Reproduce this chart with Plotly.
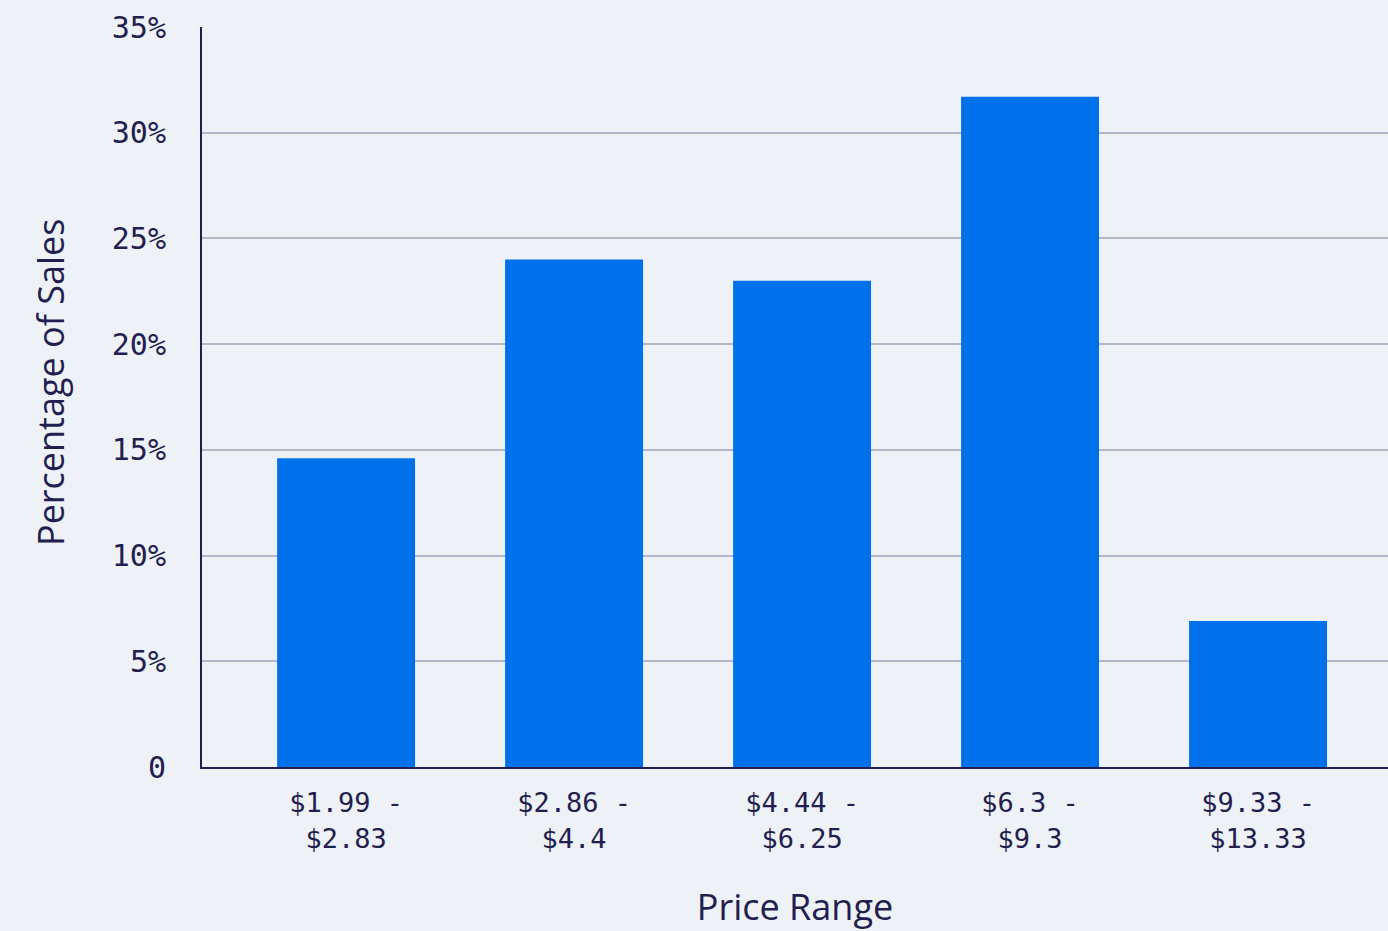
import plotly.graph_objects as go

categories = ["$1.99 -<br>$2.83", "$2.86 -<br>$4.4", "$4.44 -<br>$6.25", "$6.3 -<br>$9.3", "$9.33 -<br>$13.33"]
values = [14.6, 24.0, 23.0, 31.7, 6.9]
tick_vals = [0, 5, 10, 15, 20, 25, 30, 35]
tick_text = ["0", "5%", "10%", "15%", "20%", "25%", "30%", "35%"]

bg = "#EEF1F5"
ink = "#221E4F"

fig = go.Figure(go.Bar(x=list(range(len(categories))), y=values,
                       marker=dict(color="#0070EB", line=dict(width=0)), width=0.605))

fig.update_layout(
    width=1388, height=931,
    paper_bgcolor=bg, plot_bgcolor=bg,
    margin=dict(l=202, r=0, t=27, b=164),
    showlegend=False,
)
fig.update_xaxes(
    tickvals=list(range(len(categories))), ticktext=categories,
    range=[-0.632, 4.57],
    showgrid=False, showline=True, linecolor=ink, linewidth=2,
    ticks="outside", ticklen=11, tickcolor="rgba(0,0,0,0)",
    tickfont=dict(family="DejaVu Sans Mono", size=27, color=ink),
    title=dict(text="Price Range", font=dict(family="Open Sans", size=36, color=ink), standoff=45),
)
fig.update_yaxes(
    range=[0, 35], tickvals=tick_vals, ticktext=tick_text,
    showgrid=True, gridcolor="#B5B5C8", gridwidth=1.5,
    showline=True, linecolor=ink, linewidth=2, zeroline=False,
    ticks="outside", ticklen=28, tickcolor="rgba(0,0,0,0)",
    tickfont=dict(family="DejaVu Sans Mono", size=30, color=ink),
)
fig.add_annotation(
    text="Percentage of Sales", textangle=-90,
    xref="paper", yref="paper", x=(50 - 202) / 1186, y=(767 - 383) / 740,
    xanchor="center", yanchor="middle", showarrow=False,
    font=dict(family="Open Sans", size=36, color=ink),
)

fig.write_html("out.html", config={"displayModeBar": False},
               post_script="document.body.style.margin='0';document.body.style.background='#EEF1F5';")
